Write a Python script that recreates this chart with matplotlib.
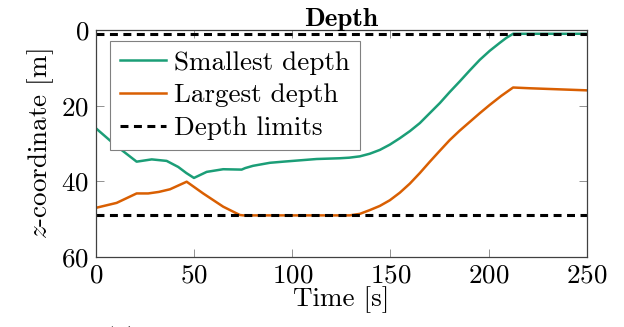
import numpy as np
import matplotlib
matplotlib.use("Agg")
import matplotlib.pyplot as plt

plt.rcParams['font.family'] = 'serif'
plt.rcParams['font.serif'] = ['cmr10']
plt.rcParams['mathtext.fontset'] = 'cm'
plt.rcParams['axes.formatter.use_mathtext'] = True

# smallest depth (green)
t_small = [0, 10, 20.7, 28.4, 36, 41.9, 46, 49.9, 56.4, 64.8, 74.2, 76, 80, 88.6, 95.4,
           112.4, 124.2, 129, 134.4, 139.5, 144.6, 149.7, 154.8, 160, 165, 170, 175.2, 180.2,
           185.3, 190.4, 195.5, 200.6, 205.7, 209, 212.5, 250]
d_small = [26, 30.5, 34.8, 34.2, 34.6, 36.2, 37.8, 39.1, 37.5, 36.8, 36.9, 36.5, 35.9, 35.1, 34.8,
           34.1, 33.9, 33.75, 33.4, 32.7, 31.7, 30.3, 28.6, 26.7, 24.6, 22.0, 19.3, 16.4,
           13.6, 10.7, 7.9, 5.5, 3.4, 2.1, 1.0, 1.0]

# largest depth (orange)
t_large = [0, 10.5, 20.7, 26.6, 32, 37.7, 46.2, 54.6, 64.8, 73.3, 75, 129.3, 134.4, 139.5,
           144.6, 149.7, 154.8, 159.9, 165, 170.1, 175.2, 180.2, 185.3, 190.4, 195.5, 200.6,
           206.5, 212.5, 221, 250]
d_large = [47, 45.7, 43.2, 43.2, 42.8, 42.1, 40.1, 43.2, 46.7, 48.9, 49, 49, 48.6, 47.6,
           46.5, 45, 43, 40.6, 37.8, 34.8, 31.9, 29.1, 26.6, 24.3, 22.0, 19.8,
           17.4, 15.2, 15.4, 15.95]

limit_top = 1
limit_bottom = 49

green = '#1b9e77'
orange = '#d95f02'
fs = 19.5

fig = plt.figure(figsize=(6.24, 3.27), dpi=100)
ax = fig.add_axes([96 / 624, 1 - 257 / 327, 490.7 / 624, 227 / 327])

ax.plot(t_small, d_small, color=green, lw=1.8, label='Smallest depth')
ax.plot(t_large, d_large, color=orange, lw=1.8, label='Largest depth')
ax.axhline(limit_top, color='black', lw=2.2, ls=(0, (2.6, 1.8)), label='Depth limits')
ax.axhline(limit_bottom, color='black', lw=2.2, ls=(0, (2.6, 1.8)))

ax.set_xlim(0, 250)
ax.set_ylim(60, 0)
ax.set_xticks([0, 50, 100, 150, 200, 250])
ax.set_yticks([0, 20, 40, 60])
ax.tick_params(direction='in', length=6, width=0.6, color='#808080', labelsize=fs,
               top=True, right=True, pad=5)
for s in ax.spines.values():
    s.set_linewidth(0.9)
    s.set_color('#404040')

ax.set_title('Depth', fontsize=fs, fontfamily='cmb10', pad=3)
ax.set_xlabel('Time [s]', fontsize=fs, labelpad=-1)
ax.set_ylabel('$z$-coordinate [m]', fontsize=fs, labelpad=4)

leg = ax.legend(loc='upper left', bbox_to_anchor=(0.0285, 0.951), borderaxespad=0,
                fontsize=fs, fancybox=False, framealpha=1, edgecolor='#808080',
                handlelength=1.7, handletextpad=0.3, labelspacing=0.32, borderpad=0.36)
leg.get_frame().set_linewidth(0.8)

# caption, mostly below the bottom edge as in the reference
fig.text(121 / 624, 1 / 327, '(a)', fontsize=fs, ha='center', va='top')

fig.savefig('out.png', dpi=100)
